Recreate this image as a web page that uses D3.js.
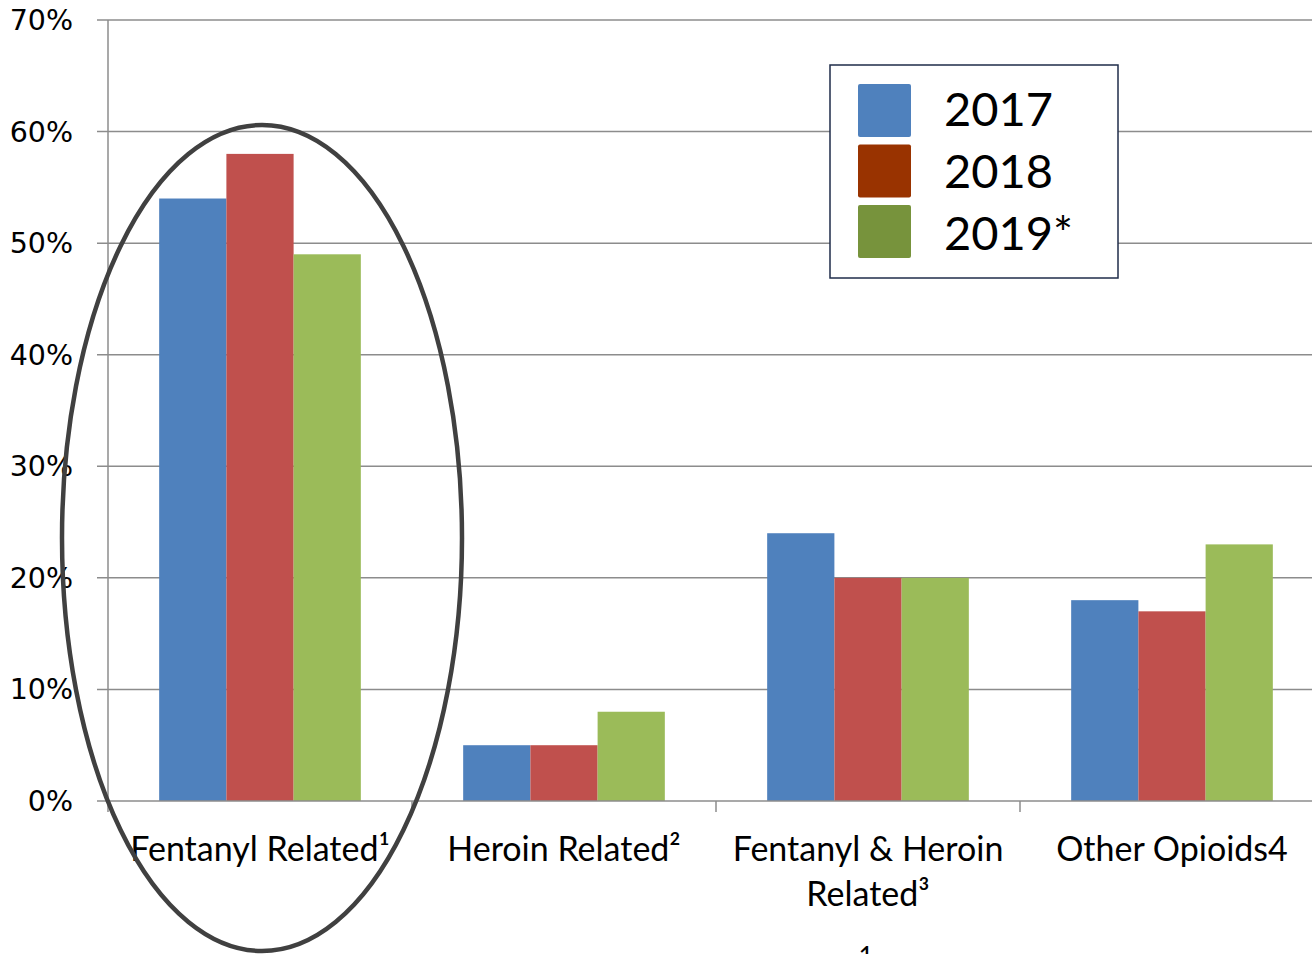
<!DOCTYPE html>
<html lang="en">
<head>
    <meta charset="UTF-8">
    <title>opioid chart</title>
    <script src="https://d3js.org/d3.v7.min.js"></script>
</head>
<body>
</body>
<style>
    * {
        margin: 0;
        padding: 0;
    }
    body {
        background: #fff;
    }
</style>
<script>
    var categories = [["Fentanyl Related\u00B9"], ["Heroin Related\u00B2"], ["Fentanyl & Heroin", "Related\u00B3"], ["Other Opioids4"]];
    var years = ["2017", "2018", "2019*"];
    var v2017 = [54, 5, 24, 18];
    var v2018 = [58, 5, 20, 17];
    var v2019 = [49, 8, 20, 23];
    var yTicks = [0, 10, 20, 30, 40, 50, 60, 70];

    var barColors = ["#4F81BD", "#C0504D", "#9BBB59"];
    var legendColors = ["#4F81BD", "#993300", "#77933C"];

    var width = 1312,
        height = 954;
    var plotLeft = 108, plotTop = 20, plotRight = 1324, plotBottom = 801;

    var svg = d3.select("body")
                .append("svg")
                .attr("width", width)
                .attr("height", height);

    var x = d3.scaleBand()
              .domain(d3.range(categories.length))
              .range([plotLeft, plotRight]);
    var x1 = d3.scaleBand()
               .domain(d3.range(years.length))
               .range([0, x.bandwidth()])
               .paddingOuter(0.5 * 102 / 67)
               .paddingInner(0);
    var y = d3.scaleLinear().domain([0, 70]).range([plotBottom, plotTop]);

    // grid lines
    svg.selectAll("line.grid")
       .data(yTicks.slice(1))
       .enter()
       .append("line")
       .attr("x1", plotLeft - 11)
       .attr("x2", width)
       .attr("y1", function(d) { return y(d); })
       .attr("y2", function(d) { return y(d); })
       .attr("stroke", "#8c8c8c")
       .attr("stroke-width", 1.5);

    // y labels
    svg.selectAll("text.ylab")
       .data(yTicks)
       .enter()
       .append("text")
       .attr("x", 73)
       .attr("y", function(d) { return y(d) + 10; })
       .attr("text-anchor", "end")
       .style("font-family", "DejaVu Sans")
       .style("font-size", "28.5px")
       .text(function(d) { return d + "%"; });

    // bars
    var series = [v2017, v2018, v2019];
    series.forEach(function(vals, s) {
        svg.selectAll("rect.s" + s)
           .data(vals)
           .enter()
           .append("rect")
           .attr("x", function(d, i) { return x(i) + x1(s); })
           .attr("width", x1.bandwidth())
           .attr("y", function(d) { return y(d); })
           .attr("height", function(d) { return plotBottom - y(d); })
           .attr("fill", barColors[s]);
    });

    // axes lines
    svg.append("line")
       .attr("x1", plotLeft).attr("x2", plotLeft)
       .attr("y1", plotTop).attr("y2", plotBottom)
       .attr("stroke", "#8c8c8c").attr("stroke-width", 1.5);
    svg.append("line")
       .attr("x1", plotLeft - 11).attr("x2", width)
       .attr("y1", plotBottom).attr("y2", plotBottom)
       .attr("stroke", "#8c8c8c").attr("stroke-width", 1.5);
    svg.selectAll("line.xtick")
       .data(d3.range(categories.length))
       .enter()
       .append("line")
       .attr("x1", function(d) { return x(d); })
       .attr("x2", function(d) { return x(d); })
       .attr("y1", plotBottom)
       .attr("y2", plotBottom + 11)
       .attr("stroke", "#8c8c8c").attr("stroke-width", 1.5);

    // category labels
    categories.forEach(function(lines, i) {
        lines.forEach(function(t, j) {
            svg.append("text")
               .attr("x", x(i) + x.bandwidth() / 2)
               .attr("y", 861 + j * 45)
               .attr("text-anchor", "middle")
               .style("font-family", "Lato")
               .style("font-size", "34px")
               .text(t);
        });
    });

    // footnote fragment at bottom (cut off in the original too)
    svg.append("text")
       .attr("x", 866)
       .attr("y", 966)
       .attr("text-anchor", "middle")
       .style("font-family", "Lato")
       .style("font-size", "26px")
       .text("1");

    // legend
    var lg = svg.append("g");
    lg.append("rect")
      .attr("x", 830).attr("y", 65)
      .attr("width", 288).attr("height", 213)
      .attr("fill", "#fff")
      .attr("stroke", "#1f2d4a").attr("stroke-width", 1.5);
    years.forEach(function(yr, i) {
        lg.append("rect")
          .attr("x", 858).attr("y", 84 + i * 60.5)
          .attr("width", 53).attr("height", 53)
          .attr("rx", 2)
          .attr("fill", legendColors[i]);
        lg.append("text")
          .attr("x", 944).attr("y", 126 + i * 62)
          .style("font-family", "Lato")
          .style("font-size", "47px")
          .text(yr);
    });

    // ellipse annotation
    svg.append("ellipse")
       .attr("cx", 262).attr("cy", 538)
       .attr("rx", 200).attr("ry", 413)
       .attr("fill", "none")
       .attr("stroke", "#404040")
       .attr("stroke-width", 4.5);
</script>
</html>
